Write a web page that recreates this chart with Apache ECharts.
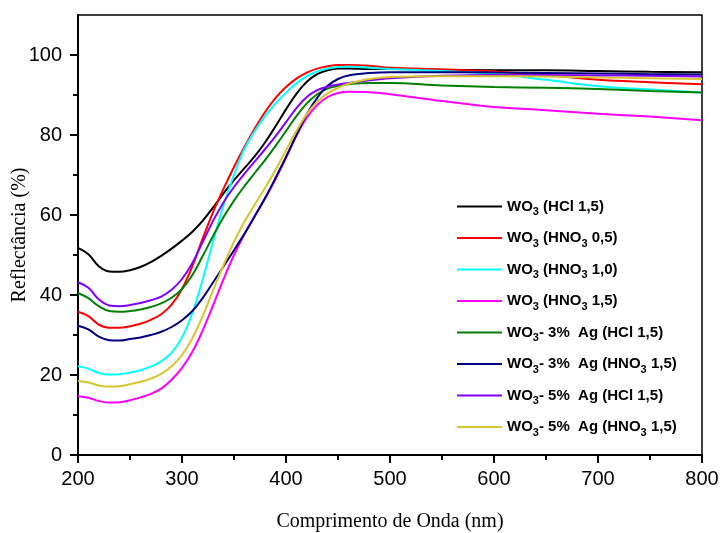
<!DOCTYPE html>
<html>
<head>
<meta charset="utf-8">
<script src="https://cdn.jsdelivr.net/npm/echarts@6/dist/echarts.min.js"></script>
<style>
html,body{margin:0;padding:0;background:#fff;}
#chart{width:723px;height:533px;}
</style>
</head>
<body>
<div id="chart"></div>
<script>
// Wavelength (nm)
var wavelengths = [200,210,220,230,240,250,260,270,280,290,300,310,320,330,340,350,360,370,380,390,400,410,420,430,440,450,460,480,500,550,600,650,700,750,800];

var wo3_hcl_15  = [51.8,50.2,47.2,45.9,45.8,46.2,47,48.2,49.8,51.6,53.6,55.8,58.6,61.9,65.4,68.7,71.7,74.7,78.2,82.2,86.4,90.3,93.3,95.2,96.2,96.6,96.6,96.5,96.5,96.3,96.2,96.2,96,95.8,95.7];
var wo3_hno3_05 = [35.8,34.7,32.6,31.8,31.8,32.2,32.8,33.8,35.2,37.6,41.5,47.2,54.2,60.8,66.6,72,77,81.6,85.8,89.3,92,94.1,95.6,96.6,97.2,97.5,97.5,97.3,96.8,96.4,95.9,95,93.8,93.2,92.7];
var wo3_hno3_10 = [22.2,21.6,20.5,20.1,20.2,20.6,21.2,22.1,23.4,25.6,29.4,35.5,44,53.5,62.5,70,76.5,81,84.8,87.9,90.6,92.9,94.7,95.9,96.6,97,97.1,96.8,96.5,96,95.3,93.8,92.2,91.4,90.6];
var wo3_hno3_15 = [14.7,14.3,13.5,13.1,13.2,13.7,14.4,15.3,16.6,18.8,21.8,25.8,31.2,37.5,44,50,55.2,59.8,64.2,69,74.3,79.8,84.3,87.5,89.5,90.5,90.8,90.7,90.2,88.5,87,86.2,85.3,84.6,83.7];
var ag3_hcl_15  = [40.5,39.2,37.2,36,35.8,36,36.4,37,37.9,39.3,41.5,45,49.8,54.8,59.5,63.6,67.2,70.5,73.8,77.3,81,84.7,87.9,90.2,91.6,92.3,92.7,93,93,92.4,92,91.8,91.5,91,90.6];
var ag3_hno3_15 = [32.3,31.4,29.6,28.7,28.6,29,29.4,30,30.8,32,33.7,36,39.3,43.2,47.2,51.2,55.3,59.7,64.3,69.3,74.5,80,85.2,89.3,92.3,94,94.9,95.5,95.7,95.7,95.6,95.5,95.4,95.2,95.1];
var ag5_hcl_15  = [43.2,41.8,38.9,37.4,37.2,37.5,38,38.7,39.6,41.3,44,48,53.3,58.6,63.2,67,70.3,73.4,76.5,79.7,83.2,86.7,89.5,91.2,92.1,92.6,93,93.7,94.2,94.8,95,95,94.9,94.8,94.6];
var ag5_hno3_15 = [18.5,18.1,17.4,17.1,17.2,17.7,18.3,19.1,20.3,22.2,25,29.2,34.8,41.2,47.5,53.3,58.3,62.6,66.8,71.3,76.2,81,85.2,88.3,90.4,91.8,92.8,94,94.5,94.7,94.7,94.6,94.4,94.2,94];

var seriesNames = ['WO3 (HCl 1,5)','WO3 (HNO3 0,5)','WO3 (HNO3 1,0)','WO3 (HNO3 1,5)','WO3- 3%  Ag (HCl 1,5)','WO3- 3%  Ag (HNO3 1,5)','WO3- 5%  Ag (HCl 1,5)','WO3- 5%  Ag (HNO3 1,5)'];
var seriesValues = [wo3_hcl_15, wo3_hno3_05, wo3_hno3_10, wo3_hno3_15, ag3_hcl_15, ag3_hno3_15, ag5_hcl_15, ag5_hno3_15];
var seriesColors = ['#000000','#ff0000','#00ffff','#ff00ff','#008000','#000080','#8000ff','#d8c42c'];

var xTicks = [200,300,400,500,600,700,800];
var yTicks = [0,20,40,60,80,100];
var yMinorTicks = [10,30,50,70,90];

function richName(name){
  var out = '';
  var re = /(WO|HNO)3/g;
  var last = 0, m;
  while ((m = re.exec(name)) !== null) {
    out += '{n|' + name.slice(last, m.index) + m[1] + '}{s|3}';
    last = m.index + m[0].length;
  }
  if (last < name.length) out += '{n|' + name.slice(last) + '}';
  return out;
}

var chart = echarts.init(document.getElementById('chart'), null, {renderer:'canvas'});

var series = seriesNames.map(function(name, i){
  return {
    name: name,
    type: 'line',
    smooth: 0.4,
    showSymbol: false,
    symbol: 'none',
    lineStyle: {color: seriesColors[i], width: 2},
    itemStyle: {color: seriesColors[i]},
    data: wavelengths.map(function(w, j){ return [w, seriesValues[i][j]]; })
  };
});

var labelFont = {fontFamily: 'Arial, Liberation Sans', fontSize: 20, color: '#000'};
var nameFont = {fontFamily: 'Times New Roman, Liberation Serif', fontSize: 20, color: '#000'};

var option = {
  backgroundColor: '#ffffff',
  animation: false,
  grid: {left: 78, right: 21, top: 15, bottom: 78, containLabel: false, outerBoundsMode: 'none',
         show: true, borderColor: '#000', borderWidth: 1.5, backgroundColor: 'transparent'},
  legend: {
    orient: 'vertical',
    left: 457,
    top: 199,
    padding: 0,
    itemWidth: 45,
    itemHeight: 2,
    itemGap: 13,
    icon: 'rect',
    data: seriesNames,
    formatter: function(name){ return richName(name); },
    textStyle: {
      color: '#000',
      rich: {
        n: {fontFamily: 'Arial, Liberation Sans', fontWeight: 'bold', fontSize: 15, color: '#000', lineHeight: 22, verticalAlign: 'middle'},
        s: {fontFamily: 'Arial, Liberation Sans', fontWeight: 'bold', fontSize: 11, color: '#000', lineHeight: 22, verticalAlign: 'bottom'}
      }
    }
  },
  xAxis: {
    type: 'value',
    min: xTicks[0],
    max: xTicks[xTicks.length-1],
    interval: 100,
    name: 'Comprimento de Onda (nm)',
    nameLocation: 'middle',
    nameGap: 57,
    nameMoveOverlap: false,
    nameTextStyle: nameFont,
    axisLine: {show: true, lineStyle: {color: '#000', width: 2}},
    axisTick: {show: true, inside: false, length: 8, lineStyle: {color: '#000', width: 2}},
    minorTick: {show: true, splitNumber: 2, length: 5, lineStyle: {color: '#000', width: 2}},
    axisLabel: Object.assign({margin: 14}, labelFont),
    splitLine: {show: false}
  },
  yAxis: [{
    type: 'value',
    min: 0,
    max: 110,
    name: 'Reflectância (%)',
    nameLocation: 'middle',
    nameGap: 48,
    nameMoveOverlap: false,
    nameTextStyle: nameFont,
    axisLine: {show: true, lineStyle: {color: '#000', width: 2}},
    axisTick: {show: true, inside: false, length: 8, customValues: yTicks, lineStyle: {color: '#000', width: 2}},
    minorTick: {show: false},
    axisLabel: Object.assign({margin: 16, customValues: yTicks}, labelFont),
    splitLine: {show: false}
  }, {
    type: 'value',
    min: 0,
    max: 110,
    position: 'left',
    axisLine: {show: false},
    axisTick: {show: true, inside: false, length: 5, customValues: yMinorTicks, lineStyle: {color: '#000', width: 2}},
    axisLabel: {show: false},
    splitLine: {show: false}
  }],
  series: series
};
chart.setOption(option);
</script>
</body>
</html>
